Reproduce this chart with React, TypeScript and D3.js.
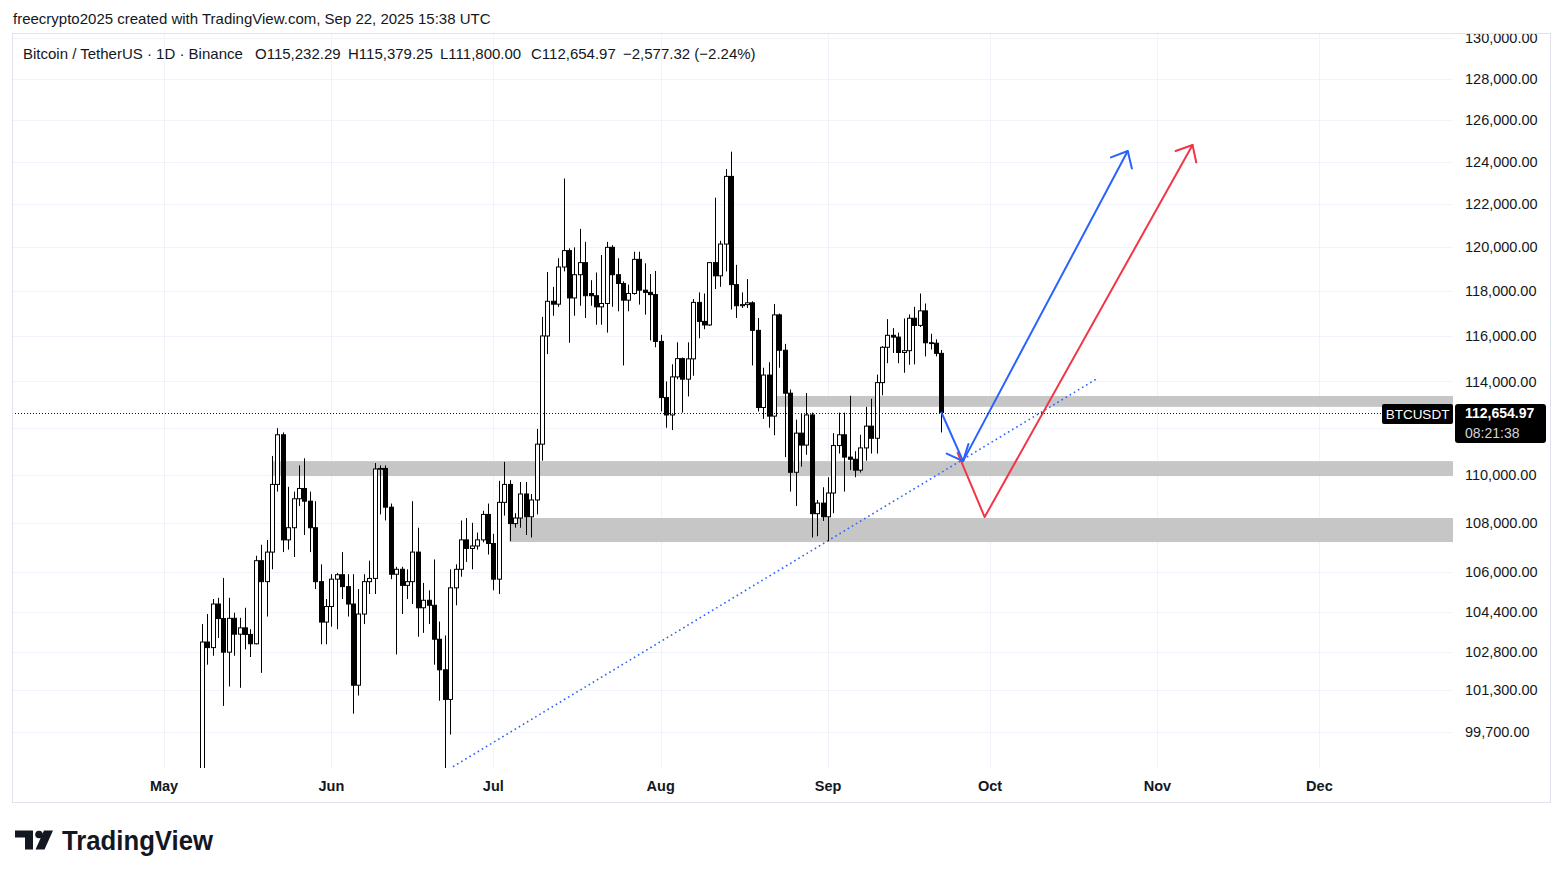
import { useEffect, useRef } from "react";
import * as d3 from "d3";

const W = 1563;
const H = 878;

// daily candles, May 8 .. Sep 22 2025
const firstDay = "2025-05-08";
const lastDay = "2025-09-22";

const open = [
  97000, 103190, 102970, 104700, 104120, 102790, 104130, 103500, 103750, 103490, 103120, 106450, 105600, 106800, 109600, 111700, 107300, 107800, 109000, 109430, 108900, 107800, 105600, 103980,
  104600, 105700, 105880, 105400, 104700, 101500, 104300, 105600, 105730, 110250, 110270, 108650, 105900, 106100, 105450, 105600, 106800, 104550, 104850, 104650, 103300, 102100, 100950, 105350, 106100, 107300, 106950, 107050, 107300, 108350,
  107150, 105700, 108850, 109600, 107970, 108200, 109200, 108250, 108950, 111300, 116000, 117550, 117420, 119100, 119850, 117700, 118750, 119300, 117900, 117800, 117300, 117450, 120000, 118750, 118350, 117600, 117900, 119450, 118050, 117950, 117850,
  115760, 113300, 112550, 114200, 115000, 114100, 114990, 117500, 116650, 116490, 119300, 118700, 120150, 123300, 118300, 117350, 117400, 117480, 116250, 112870, 114280, 112500, 116940, 115370, 113490, 110110, 111770, 111260, 112550, 108380, 108820,
  108250, 109240, 111240, 111700, 110750, 110660, 110200, 111140, 112070, 111550, 113950, 115500, 116030, 115950, 115270, 115350, 116790, 116470, 117120, 115700, 115680, 115232.29,
];
const high = [
  103900, 104300, 104900, 104950, 105750, 104950, 104350, 104150, 104550, 103700, 106650, 107100, 107300, 110800, 111980, 111800, 109500, 109300, 110400, 110700, 109300, 108900, 106300, 104900,
  105900, 105950, 106800, 105900, 105900, 105300, 105900, 106450, 110500, 110400, 110400, 108800, 106200, 106200, 106100, 108900, 107800, 105550, 105250, 106500, 104000, 103450, 106100, 106300, 108100, 108200, 108000, 107600, 108500, 108800,
  107550, 109750, 110550, 109780, 108400, 109700, 109700, 109200, 111950, 116850, 118870, 118200, 119500, 123200, 119950, 120000, 120850, 120250, 118500, 118850, 119650, 120250, 120100, 119500, 118450, 118300, 119800, 119800, 119270, 118780, 118920,
  116050, 114000, 114750, 115720, 115050, 115720, 117650, 117950, 117900, 119300, 122300, 120300, 123650, 124470, 119200, 117950, 118550, 117550, 116800, 114600, 114840, 117430, 117000, 115650, 113650, 112350, 112600, 113500, 112650, 108950, 109480,
  109900, 111770, 112650, 112650, 113380, 111000, 111700, 112900, 113250, 114300, 115550, 116750, 116350, 116150, 116780, 116960, 117300, 117900, 117450, 116100, 115850, 115379.25,
];
const low = [
  95900, 102300, 102650, 103350, 100700, 101450, 102650, 101400, 102900, 102600, 103100, 101980, 104200, 106100, 109300, 106800, 106900, 106600, 108700, 107500, 106800, 105300, 103100, 103100,
  103800, 103700, 104900, 104200, 100400, 101100, 103900, 105100, 105100, 108350, 108100, 105700, 102700, 104300, 104900, 104700, 103400, 103550, 103900, 102300, 100900, 98200, 99600, 104650, 105800, 106400, 106100, 106900, 107200, 106700,
  105250, 105100, 108300, 107250, 107800, 107800, 107500, 107400, 108350, 110600, 115200, 116900, 117300, 118900, 115700, 116900, 117350, 116800, 117350, 116500, 116500, 116150, 117300, 117100, 114700, 117100, 117850, 117400, 116950, 115800, 115500,
  112700, 112000, 111900, 114100, 112650, 113350, 114250, 115900, 116300, 116450, 118100, 118200, 118900, 117180, 116800, 117250, 117250, 114700, 112700, 112380, 112000, 111680, 114600, 110750, 109300, 108700, 110350, 110850, 107400, 107450, 108080,
  107250, 108400, 110900, 109300, 110200, 109900, 110100, 110600, 110900, 110900, 113400, 114800, 115250, 114800, 114380, 114730, 114750, 116400, 115100, 115400, 115100, 111800,
];
const close = [
  103190, 102970, 104700, 104120, 102790, 104130, 103500, 103750, 103490, 103120, 106450, 105600, 106800, 109600, 111700, 107300, 107800, 109000, 109430, 108900, 107800, 105600, 103980, 104600,
  105700, 105880, 105400, 104700, 101500, 104300, 105600, 105730, 110250, 110270, 108650, 105900, 106100, 105450, 105600, 106800, 104550, 104850, 104650, 103300, 102100, 100950, 105350, 106100, 107300, 106950, 107050, 107300, 108350, 107150,
  105700, 108850, 109600, 107970, 108200, 109200, 108250, 108950, 111300, 116000, 117550, 117420, 119100, 119850, 117700, 118750, 119300, 117800, 117800, 117300, 117450, 120000, 118750, 118350, 117600, 117900, 119450, 118050, 117950, 117850, 115760,
  113300, 112550, 114200, 115000, 114100, 114990, 117500, 116650, 116490, 119300, 118700, 120150, 123300, 118300, 117350, 117400, 117480, 116250, 112870, 114280, 112500, 116940, 115370, 113490, 110110, 111770, 111260, 112550, 108380, 108820, 108250,
  109240, 111240, 111700, 110750, 110660, 110200, 111140, 112070, 111550, 113950, 115500, 116030, 115950, 115270, 115350, 116790, 116470, 117120, 115700, 115680, 115232.29, 112654.97,
];

const priceTicks = [130000, 128000, 126000, 124000, 122000, 120000, 118000, 116000, 114000, 112000, 110000, 108000, 106000, 104400, 102800, 101300, 99700];
const monthTicks = ["2025-05-01", "2025-06-01", "2025-07-01", "2025-08-01", "2025-09-01", "2025-10-01", "2025-11-01", "2025-12-01"];
const monthLabels = ["May", "Jun", "Jul", "Aug", "Sep", "Oct", "Nov", "Dec"];

// gray support / resistance boxes (extend to the right edge)
const zoneFrom = ["2025-08-22T12:00:00Z", "2025-05-21T00:00:00Z", "2025-07-04T00:00:00Z"];
const zoneLow = [112900, 109950, 107210];
const zoneHigh = [113370, 110580, 108200];

// dotted trend line
const trendDates = ["2025-06-22", "2025-10-21"];
const trendPrices = [98200, 114150];

// projection arrows
const blueDates = ["2025-09-22", "2025-09-26", "2025-10-26T12:00:00Z"];
const bluePrices = [112654.97, 110580, 124500];
const redDates = ["2025-09-25", "2025-09-30", "2025-11-07T12:00:00Z"];
const redPrices = [110930, 108240, 124790];

const lastPrice = 112654.97;
const symbol = "BTCUSDT";
const countdown = "08:21:38";
const credit = "freecrypto2025 created with TradingView.com, Sep 22, 2025 15:38 UTC";
const legend = ["Bitcoin / TetherUS · 1D · Binance", "O115,232.29", "H115,379.25", "L111,800.00", "C112,654.97", "−2,577.32 (−2.24%)"];
const legendX = [23, 255, 348, 440, 531, 623];

const FONT = "'Liberation Sans', Arial, sans-serif";
const TEXT = "#131722";
const BLUE = "#2962ff";
const RED = "#f23645";

export default function App() {
  const ref = useRef<SVGSVGElement>(null);

  useEffect(() => {
    if (!ref.current) return;
    const svg = d3.select(ref.current);
    svg.selectAll("*").remove();

    const left = 12, right = 1453, top = 33, bottom = 768, frameR = 1550, frameB = 802;

    const x = d3.scaleUtc()
      .domain([new Date(monthTicks[0]), new Date(monthTicks[monthTicks.length - 1])])
      .range([164, 1319.4]);
    const y = d3.scaleLog().domain([99700, 130000]).range([732, 38]);

    const days = d3.utcDay.range(new Date(firstDay), d3.utcDay.offset(new Date(lastDay), 1));

    svg.append("rect").attr("width", W).attr("height", H).attr("fill", "#fff");

    const defs = svg.append("defs");
    defs.append("clipPath").attr("id", "plot")
      .append("rect").attr("x", left).attr("y", top).attr("width", right - left).attr("height", bottom - top);

    // grid
    svg.append("g").selectAll("line").data(monthTicks).join("line")
      .attr("x1", d => Math.round(x(new Date(d))) + 0.5).attr("x2", d => Math.round(x(new Date(d))) + 0.5)
      .attr("y1", top).attr("y2", bottom)
      .attr("stroke", "#f0f3fa");
    svg.append("g").selectAll("line").data(priceTicks).join("line")
      .attr("x1", left).attr("x2", right)
      .attr("y1", d => Math.round(y(d)) + 0.5).attr("y2", d => Math.round(y(d)) + 0.5)
      .attr("stroke", "#f0f3fa");

    const plot = svg.append("g").attr("clip-path", "url(#plot)");

    // zones
    plot.selectAll(".zone").data(zoneFrom).join("rect")
      .attr("x", d => x(new Date(d)))
      .attr("width", d => right - x(new Date(d)))
      .attr("y", (d, i) => y(zoneHigh[i]))
      .attr("height", (d, i) => y(zoneLow[i]) - y(zoneHigh[i]))
      .attr("fill", "#c6c6c6");

    // trend line
    plot.append("line")
      .attr("x1", x(new Date(trendDates[0]))).attr("y1", y(trendPrices[0]))
      .attr("x2", x(new Date(trendDates[1]))).attr("y2", y(trendPrices[1]))
      .attr("stroke", BLUE).attr("stroke-width", 1.6).attr("stroke-dasharray", "1.6 3.2");

    // candles
    const cg = plot.append("g");
    days.forEach((day, i) => {
      const cx = Math.round(x(day)) + 0.5;
      const up = close[i] >= open[i];
      cg.append("line")
        .attr("x1", cx).attr("x2", cx)
        .attr("y1", y(high[i])).attr("y2", y(low[i]))
        .attr("stroke", "#000").attr("stroke-width", 1);
      const yt = y(Math.max(open[i], close[i]));
      const yb = y(Math.min(open[i], close[i]));
      cg.append("rect")
        .attr("x", cx - 2).attr("width", 4)
        .attr("y", yt).attr("height", Math.max(yb - yt, 0.8))
        .attr("fill", up ? "#fff" : "#000")
        .attr("stroke", "#000").attr("stroke-width", 1);
    });

    // arrows
    const line = d3.line<[number, number]>();
    const head = (tip: [number, number], from: [number, number], len = 18, ang = 0.72): [number, number][] => {
      const a = Math.atan2(from[1] - tip[1], from[0] - tip[0]);
      return [
        [tip[0] + len * Math.cos(a + ang), tip[1] + len * Math.sin(a + ang)],
        tip,
        [tip[0] + len * Math.cos(a - ang), tip[1] + len * Math.sin(a - ang)],
      ];
    };
    const drawArrow = (dates: string[], prices: number[], color: string, midHead: boolean) => {
      const pts = dates.map((d, i) => [x(new Date(d)), y(prices[i])] as [number, number]);
      const g = plot.append("g").attr("fill", "none").attr("stroke", color).attr("stroke-width", 2)
        .attr("stroke-linecap", "round").attr("stroke-linejoin", "round");
      g.append("path").attr("d", line(pts));
      g.append("path").attr("d", line(head(pts[pts.length - 1], pts[pts.length - 2])));
      if (midHead) g.append("path").attr("d", line(head(pts[1], pts[0])));
    };
    drawArrow(redDates, redPrices, RED, false);
    drawArrow(blueDates, bluePrices, BLUE, true);

    // last price line
    const yl = Math.round(y(lastPrice)) + 0.5;
    svg.append("line")
      .attr("x1", left).attr("x2", 1382).attr("y1", yl).attr("y2", yl)
      .attr("stroke", TEXT).attr("stroke-dasharray", "1 2");

    // price axis (labels hidden under the last-price tag are skipped)
    svg.append("g").selectAll("text")
      .data(priceTicks.filter(d => y(d) < 396 || y(d) > 450)).join("text")
      .attr("x", 1465).attr("y", d => y(d)).attr("dy", "0.35em")
      .attr("font-family", FONT).attr("font-size", 14.5).attr("fill", TEXT)
      .text(d => d3.format(",.2f")(d));

    // symbol + last price labels
    svg.append("rect").attr("x", 1382).attr("y", 404).attr("width", 71).attr("height", 20).attr("rx", 2).attr("fill", "#000");
    svg.append("text").attr("x", 1417.5).attr("y", 414).attr("dy", "0.35em").attr("text-anchor", "middle")
      .attr("font-family", FONT).attr("font-size", 13.5).attr("fill", "#fff").text(symbol);
    svg.append("rect").attr("x", 1455).attr("y", 404).attr("width", 91).attr("height", 39).attr("rx", 3).attr("fill", "#000");
    svg.append("text").attr("x", 1465).attr("y", 413).attr("dy", "0.35em")
      .attr("font-family", FONT).attr("font-size", 14).attr("font-weight", 700).attr("fill", "#fff")
      .text(d3.format(",.2f")(lastPrice));
    svg.append("text").attr("x", 1465).attr("y", 433).attr("dy", "0.35em")
      .attr("font-family", FONT).attr("font-size", 14).attr("fill", "#d1d4dc").text(countdown);

    // time axis
    svg.append("g").selectAll("text").data(monthTicks).join("text")
      .attr("x", d => x(new Date(d))).attr("y", 786).attr("dy", "0.35em").attr("text-anchor", "middle")
      .attr("font-family", FONT).attr("font-size", 14.5).attr("font-weight", 600).attr("fill", TEXT)
      .text((d, i) => monthLabels[i]);

    // frame
    svg.append("rect").attr("x", left + 0.5).attr("y", top + 0.5)
      .attr("width", frameR - left).attr("height", frameB - top)
      .attr("fill", "none").attr("stroke", "#e0e3eb");

    // header
    svg.append("text").attr("x", 13).attr("y", 19).attr("dy", "0.35em")
      .attr("font-family", FONT).attr("font-size", 15).attr("fill", TEXT).text(credit);
    svg.append("g").selectAll("text").data(legend).join("text")
      .attr("x", (d, i) => legendX[i]).attr("y", 54).attr("dy", "0.35em")
      .attr("font-family", FONT).attr("font-size", 15).attr("fill", TEXT).text(d => d);

    // TradingView logo
    const logo = svg.append("g").attr("fill", TEXT);
    logo.append("path").attr("d", "M15,830.5 H33 V849.5 H25 V837.5 H15 Z");
    logo.append("circle").attr("cx", 39).attr("cy", 834.5).attr("r", 3.8);
    logo.append("path").attr("d", "M44,830.5 H53 L44.5,849.5 H35.5 Z");
    logo.append("text").attr("x", 62).attr("y", 849.5)
      .attr("font-family", FONT).attr("font-size", 27).attr("font-weight", 700)
      .attr("textLength", 151).attr("lengthAdjust", "spacingAndGlyphs")
      .text("TradingView");
  }, []);

  return (
    <svg ref={ref} width={W} height={H} viewBox={`0 0 ${W} ${H}`}
      style={{ position: "absolute", left: 0, top: 0, display: "block" }} />
  );
}
